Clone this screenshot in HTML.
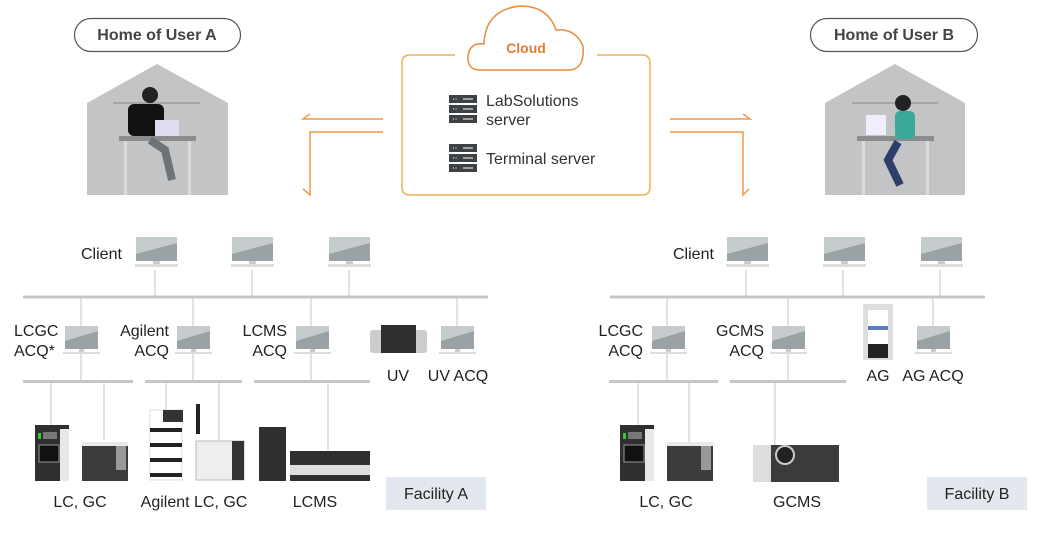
<!DOCTYPE html>
<html><head><meta charset="utf-8"><style>
html,body{margin:0;padding:0;background:#fff;}
svg{display:block;}
text{font-family:"Liberation Sans",sans-serif;fill:#222;}
</style></head><body>
<svg width="1046" height="538" viewBox="0 0 1046 538" xmlns="http://www.w3.org/2000/svg">
<defs>
<g id="mon">
<rect x="0" y="0" width="33" height="23" fill="#9aa2a6"/>
<polygon points="0,15 33,5 33,0 0,0" fill="#c6cbce"/>
<rect x="14" y="23" width="5" height="3" fill="#ccc"/>
<rect x="-2" y="26" width="37" height="2" fill="#ddd"/>
</g>
<g id="mon2">
<rect x="0" y="0" width="41" height="24" fill="#9aa2a6"/>
<polygon points="0,17 41,6 41,0 0,0" fill="#c6cbce"/>
<rect x="17" y="24" width="7" height="3" fill="#ccc"/>
<rect x="-1" y="27" width="43" height="3" fill="#ddd"/>
</g>
<g id="srv">
<rect x="0" y="0" width="28" height="8" fill="#3f4244"/>
<rect x="0" y="10" width="28" height="8" fill="#3f4244"/>
<rect x="0" y="20" width="28" height="8" fill="#3f4244"/>
<path d="M14 4h10M14 14h10M14 24h10" stroke="#fff" stroke-width="1"/>
<path d="M4 4h5M4 14h5M4 24h5" stroke="#fff" stroke-width="1" stroke-dasharray="1,1.5"/>
</g>
<g id="lc">
<rect x="0" y="0" width="34" height="56" fill="#2d2f31"/>
<rect x="25" y="4" width="9" height="52" fill="#e8e8e8"/>
<rect x="4" y="20" width="20" height="17" fill="#111" stroke="#999"/>
<rect x="3" y="8" width="3" height="6" fill="#3c3"/>
<rect x="8" y="7" width="14" height="7" fill="#777"/>
</g>
<g id="gc">
<rect x="0" y="0" width="46" height="39" fill="#3a3c3e"/>
<rect x="0" y="0" width="46" height="4" fill="#e9e9e9"/>
<rect x="34" y="4" width="10" height="24" fill="#999"/>
</g>
</defs>

<rect x="74.5" y="18.5" width="166" height="33" rx="16.5" fill="#fff" stroke="#555" stroke-width="1.2"/>
<text x="157" y="40" text-anchor="middle" font-size="16" font-weight="bold" style="fill:#444">Home of User A</text>
<rect x="810.5" y="18.5" width="167" height="33" rx="16.5" fill="#fff" stroke="#555" stroke-width="1.2"/>
<text x="894" y="40" text-anchor="middle" font-size="16" font-weight="bold" style="fill:#444">Home of User B</text>

<polygon points="157,64 228,103 228,195 87,195 87,103" fill="#c2c4c6"/>
<line x1="113" y1="103" x2="200" y2="103" stroke="#888"/>
<rect x="119" y="136" width="77" height="5" fill="#8a8c8e"/>
<rect x="124" y="141" width="3" height="54" fill="#d8dadc"/><rect x="188" y="141" width="3" height="54" fill="#d8dadc"/>
<circle cx="150" cy="95" r="8" fill="#222"/>
<rect x="128" y="104" width="36" height="32" rx="6" fill="#111"/>
<rect x="155" y="120" width="24" height="16" fill="#dde"/>
<path d="M150 140 L165 150 L172 180" stroke="#6d7376" stroke-width="8" fill="none"/>
<polygon points="895,64 965,103 965,195 825,195 825,103" fill="#c2c4c6"/>
<line x1="852" y1="103" x2="938" y2="103" stroke="#888"/>
<rect x="857" y="136" width="77" height="5" fill="#8a8c8e"/>
<rect x="862" y="141" width="3" height="54" fill="#d8dadc"/><rect x="926" y="141" width="3" height="54" fill="#d8dadc"/>
<circle cx="903" cy="103" r="8" fill="#222"/>
<rect x="866" y="115" width="20" height="20" fill="#eef"/>
<rect x="895" y="111" width="20" height="28" rx="5" fill="#3aa89a"/>
<path d="M898 142 L888 160 L900 185" stroke="#2c3e6a" stroke-width="8" fill="none"/>

<path d="M455 55 H410 Q402 55 402 63 V187 Q402 195 410 195 H642 Q650 195 650 187 V63 Q650 55 642 55 H597" fill="none" stroke="#f0b055" stroke-width="1.5"/>
<path d="M480 70 Q467 70 468 56 Q470 42 484 44 Q485 10 520 6 Q548 6 556 30 Q575 28 583 46 Q585 70 568 70 Z" fill="#fff" stroke="#e98a3c" stroke-width="1.5"/>
<text x="526" y="53" text-anchor="middle" font-size="14" font-weight="bold" style="fill:#e47b2f">Cloud</text>
<use href="#srv" x="449" y="95"/>
<use href="#srv" x="449" y="144"/>
<text x="486" y="106" font-size="16" style="fill:#333">LabSolutions</text>
<text x="486" y="125" font-size="16" style="fill:#333">server</text>
<text x="486" y="164" font-size="16" style="fill:#333">Terminal server</text>

<g stroke="#ef9a4a" stroke-width="1.5" fill="none">
<path d="M383 119 H303 L310 114"/>
<path d="M383 132 H310 V195 L303 189"/>
<path d="M670 119 H750 L743 114"/>
<path d="M670 132 H743 V195 L749 189"/>
</g>

<g stroke="#c4c7c9" fill="none">
<path d="M23 297 H488" stroke-width="3"/>
<path d="M155 270 V297 M252 270 V297 M349 270 V297" stroke-width="1"/>
<path d="M81 297 V382 M193 297 V382 M311 297 V382 M457 297 V326" stroke-width="1"/>
<path d="M23 381.5 H133 M145 381.5 H242 M254 381.5 H370" stroke-width="3"/>
<path d="M51 382 V425 M104 382 V440 M166 382 V410 M219 382 V440 M328 382 V450" stroke-width="1"/>
<path d="M610 297 H985" stroke-width="3"/>
<path d="M746 270 V297 M843 270 V297 M940 270 V297" stroke-width="1"/>
<path d="M667 297 V382 M788 297 V382 M933 297 V326" stroke-width="1"/>
<path d="M609 381.5 H718 M730 381.5 H846" stroke-width="3"/>
<path d="M638 382 V425 M689 382 V442 M775 382 V445" stroke-width="1"/>
</g>

<text x="81" y="259" font-size="16">Client</text>
<use href="#mon2" x="136" y="237"/><use href="#mon2" x="232" y="237"/><use href="#mon2" x="329" y="237"/>
<text x="673" y="259" font-size="16">Client</text>
<use href="#mon2" x="727" y="237"/><use href="#mon2" x="824" y="237"/><use href="#mon2" x="921" y="237"/>

<g font-size="16">
<text x="14" y="336">LCGC</text><text x="14" y="356">ACQ*</text>
<text x="169" y="336" text-anchor="end">Agilent</text><text x="169" y="356" text-anchor="end">ACQ</text>
<text x="287" y="336" text-anchor="end">LCMS</text><text x="287" y="356" text-anchor="end">ACQ</text>
<text x="398" y="381" text-anchor="middle">UV</text><text x="458" y="381" text-anchor="middle">UV ACQ</text>
</g>
<use href="#mon" x="65" y="326"/><use href="#mon" x="177" y="326"/><use href="#mon" x="296" y="326"/><use href="#mon" x="441" y="326"/>
<rect x="370" y="330" width="57" height="23" rx="3" fill="#ccc"/>
<rect x="381" y="325" width="35" height="28" fill="#2d2f31"/>

<use href="#lc" x="35" y="425"/><use href="#gc" x="82" y="442"/>
<rect x="150" y="410" width="32" height="70" fill="#fff" stroke="#ddd"/>
<path d="M150 430h32M150 445h32M150 460h32M150 475h32" stroke="#222" stroke-width="4"/>
<rect x="163" y="410" width="20" height="12" fill="#333"/>
<rect x="196" y="404" width="4" height="30" fill="#222"/>
<rect x="196" y="441" width="48" height="39" fill="#eee" stroke="#bbb"/>
<rect x="232" y="441" width="12" height="39" fill="#333"/>
<rect x="259" y="427" width="27" height="54" fill="#2d2f31"/>
<rect x="290" y="451" width="80" height="30" fill="#2d2f31"/>
<rect x="290" y="465" width="80" height="10" fill="#ddd"/>
<g font-size="16">
<text x="80" y="507" text-anchor="middle">LC, GC</text>
<text x="194" y="507" text-anchor="middle">Agilent LC, GC</text>
<text x="315" y="507" text-anchor="middle">LCMS</text>
</g>
<rect x="386" y="477" width="100" height="33" fill="#e3e8ee"/>
<text x="436" y="499" text-anchor="middle" font-size="16">Facility A</text>

<g font-size="16">
<text x="643" y="336" text-anchor="end">LCGC</text><text x="643" y="356" text-anchor="end">ACQ</text>
<text x="764" y="336" text-anchor="end">GCMS</text><text x="764" y="356" text-anchor="end">ACQ</text>
<text x="878" y="381" text-anchor="middle">AG</text><text x="933" y="381" text-anchor="middle">AG ACQ</text>
</g>
<use href="#mon" x="652" y="326"/><use href="#mon" x="772" y="326"/><use href="#mon" x="917" y="326"/>
<rect x="863" y="304" width="30" height="56" fill="#ddd"/>
<rect x="868" y="310" width="20" height="40" fill="#fff"/>
<rect x="868" y="344" width="20" height="14" fill="#222"/>
<rect x="868" y="326" width="20" height="4" fill="#5a7fbf"/>
<use href="#lc" x="620" y="425"/><use href="#gc" x="667" y="442"/>
<rect x="753" y="445" width="86" height="37" fill="#3a3c3e"/>
<rect x="753" y="445" width="18" height="37" fill="#ddd"/>
<circle cx="785" cy="455" r="9" fill="#222" stroke="#ccc" stroke-width="2"/>
<g font-size="16">
<text x="666" y="507" text-anchor="middle">LC, GC</text>
<text x="797" y="507" text-anchor="middle">GCMS</text>
</g>
<rect x="927" y="477" width="100" height="33" fill="#e3e8ee"/>
<text x="977" y="499" text-anchor="middle" font-size="16">Facility B</text>
</svg>
</body></html>
